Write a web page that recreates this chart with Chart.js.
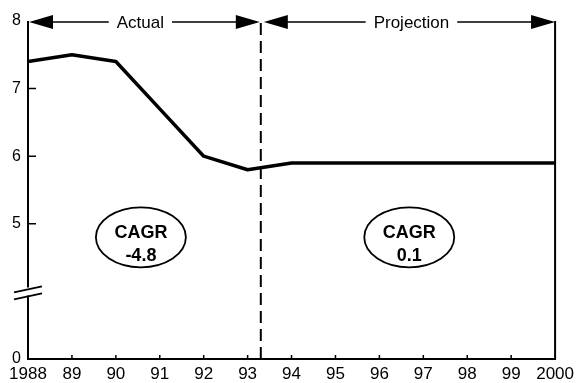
<!DOCTYPE html>
<html>
<head>
<meta charset="utf-8">
<script src="https://cdn.jsdelivr.net/npm/chart.js@4.4.1/dist/chart.umd.min.js"></script>
<style>
  html, body { margin: 0; padding: 0; background: #fff; }
  #wrap { width: 579px; height: 383px; }
</style>
</head>
<body>
<div id="wrap"><canvas id="c" width="579" height="383"></canvas></div>
<script>
// Years on the horizontal axis
const years = [1988, 1989, 1990, 1991, 1992, 1993, 1994, 1995, 1996, 1997, 1998, 1999, 2000];
// Index values per year
const values = [7.4, 7.5, 7.4, 6.7, 6.0, 5.8, 5.9, 5.9, 5.9, 5.9, 5.9, 5.9, 5.9];
// Y tick labels shown on the broken axis
const yTicks = [0, 5, 6, 7, 8];
// The axis is broken below 5: zero is drawn where this value would sit
const brokenZeroAt = 3;
// Boundary between actual and projected years
const projectionStart = 1993.3;
// Period labels and their compound annual growth rates
const periods = ['Actual', 'Projection'];
const cagrValues = ['-4.8', '0.1'];
// Where each CAGR badge sits (year, value)
const cagrYears = [1990.57, 1996.68];
const cagrLevel = 4.8;

const FONT = '"Liberation Sans", Arial, Helvetica, sans-serif';
const toScaleY = v => (v === 0 ? brokenZeroAt : v);

function arrowHead(ctx, tipX, y, dir, len, half) {
  ctx.beginPath();
  ctx.moveTo(tipX, y);
  ctx.lineTo(tipX - dir * len, y - half);
  ctx.lineTo(tipX - dir * len, y + half);
  ctx.closePath();
  ctx.fill();
}

const frame = {
  id: 'frame',
  afterDatasetsDraw(chart) {
    const ctx = chart.ctx;
    const xs = chart.scales.x, ys = chart.scales.y;
    const L = xs.getPixelForValue(years[0]);
    const R = xs.getPixelForValue(years[years.length - 1]);
    const T = ys.getPixelForValue(8);
    const B = ys.getPixelForValue(brokenZeroAt);
    const breakY = ys.getPixelForValue(4);
    ctx.save();
    ctx.strokeStyle = '#000';
    ctx.fillStyle = '#000';
    ctx.lineCap = 'butt';

    // axes: left (broken), bottom, right
    ctx.lineWidth = 2;
    ctx.beginPath();
    ctx.moveTo(L, T); ctx.lineTo(L, breakY - 4);
    ctx.moveTo(L, breakY + 4); ctx.lineTo(L, B);
    ctx.lineTo(R, B); ctx.lineTo(R, T);
    ctx.stroke();

    // axis break marks
    ctx.lineWidth = 1.8;
    ctx.beginPath();
    ctx.moveTo(L - 14, breakY + 1); ctx.lineTo(L + 14, breakY - 5);
    ctx.moveTo(L - 14, breakY + 8); ctx.lineTo(L + 14, breakY + 2);
    ctx.stroke();

    // inward y ticks
    ctx.lineWidth = 1.5;
    ctx.beginPath();
    [5, 6, 7].forEach(v => {
      const y = ys.getPixelForValue(v);
      ctx.moveTo(L, y); ctx.lineTo(L + 8, y);
    });
    // inward x ticks
    years.slice(1, -1).forEach(yr => {
      const x = xs.getPixelForValue(yr);
      ctx.moveTo(x, B); ctx.lineTo(x, B - 4);
    });
    ctx.stroke();

    // dashed divider
    const D = xs.getPixelForValue(projectionStart);
    ctx.lineWidth = 2;
    ctx.setLineDash([12, 6]);
    ctx.beginPath();
    ctx.moveTo(D, T + 2); ctx.lineTo(D, B);
    ctx.stroke();
    ctx.setLineDash([]);

    // period arrows and labels along the top
    ctx.font = '17px ' + FONT;
    ctx.textAlign = 'center';
    ctx.textBaseline = 'middle';
    const spans = [[L + 1, D - 1], [D + 3, R]];
    spans.forEach(([a, b], i) => {
      const cx = (a + b) / 2 + (i === 0 ? -4 : 2);
      const tw = ctx.measureText(periods[i]).width;
      const ay = T + 1;
      ctx.lineWidth = 1.5;
      ctx.beginPath();
      ctx.moveTo(a + 20, ay); ctx.lineTo(cx - tw / 2 - 8, ay);
      ctx.moveTo(cx + tw / 2 + 8, ay); ctx.lineTo(b - 20, ay);
      ctx.stroke();
      arrowHead(ctx, a, ay, -1, 24, 7);
      arrowHead(ctx, b, ay, 1, 24, 7);
      ctx.fillText(periods[i], cx, ay + 1);
    });

    // CAGR badges
    cagrYears.forEach((yr, i) => {
      const cx = xs.getPixelForValue(yr);
      const cy = ys.getPixelForValue(cagrLevel);
      ctx.lineWidth = 1.8;
      ctx.beginPath();
      ctx.ellipse(cx, cy, 45, 30, 0, 0, Math.PI * 2);
      ctx.stroke();
      ctx.font = 'bold 18px ' + FONT;
      ctx.fillText('CAGR', cx, cy - 4);
      ctx.fillText(cagrValues[i], cx, cy + 19);
    });
    ctx.restore();
  }
};

new Chart(document.getElementById('c'), {
  type: 'line',
  data: {
    datasets: [{
      data: years.map((yr, i) => ({ x: yr, y: values[i] })),
      borderColor: '#000',
      borderWidth: 3.5,
      pointRadius: 0,
      tension: 0,
      borderJoinStyle: 'round'
    }]
  },
  options: {
    responsive: false,
    animation: false,
    events: [],
    layout: { padding: { left: 0, right: 20, top: 21, bottom: 0 } },
    plugins: { legend: { display: false }, tooltip: { enabled: false } },
    scales: {
      x: {
        type: 'linear',
        min: years[0],
        max: years[years.length - 1],
        grid: { display: false, drawTicks: false },
        border: { display: false },
        afterBuildTicks: s => { s.ticks = years.map(v => ({ value: v })); },
        afterFit: s => { s.height = 24; },
        ticks: {
          autoSkip: false,
          maxRotation: 0,
          padding: 5,
          color: '#000',
          font: { family: FONT, size: 17 },
          callback: v => (v === years[0] || v === years[years.length - 1]) ? String(v) : String(v).slice(2)
        }
      },
      y: {
        min: brokenZeroAt,
        max: 8,
        grid: { display: false, drawTicks: false },
        border: { display: false },
        afterBuildTicks: s => { s.ticks = yTicks.map(v => ({ value: toScaleY(v) })); },
        afterFit: s => { s.width = 28; },
        ticks: {
          padding: 7,
          color: '#000',
          font: { family: FONT, size: 16 },
          callback: v => (v === brokenZeroAt ? '0' : String(v))
        }
      }
    }
  },
  plugins: [frame]
});
</script>
</body>
</html>
